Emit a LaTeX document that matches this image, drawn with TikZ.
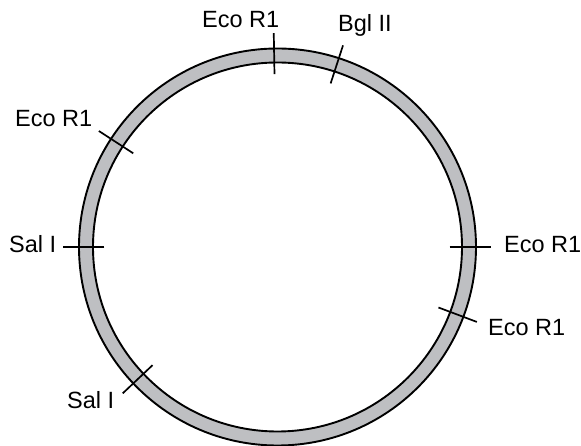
\documentclass[tikz,border=0pt]{standalone}
\usepackage{fontspec}
\setmainfont{Liberation Sans}
\usepackage{tikz}
\definecolor{ringgray}{RGB}{190,191,194}

\begin{document}
\begin{tikzpicture}[x=1pt, y=1pt, font=\fontsize{23.5}{28}\selectfont,
		site/.style={line width=1.7pt},
		enzyme/.style={anchor=base west, inner sep=0pt}]
		\useasboundingbox (-277.5,-199) rectangle (303.5,247);
		\coordinate (C) at (0,0); % ring centre
		\fill[ringgray, even odd rule] (C) circle (198.5pt) (C) circle (184.5pt);
		\draw[line width=1.9pt] (C) circle (198.5pt);
		\draw[line width=1.9pt] (C) circle (184.5pt);
		\draw[site] (91:173) -- (91:214);    % top
		\draw[site] (72:172) -- (72:212);    % upper right
		\draw[site] (147:172) -- (147:213);  % upper left
		\draw[site] (180:173) -- (180:214);  % left
		\draw[site] (223.4:172) -- (223.4:213); % lower left
		\draw[site] (0:172) -- (0:213);      % right
		\draw[site] (339.4:172) -- (339.4:213); % lower right
		\node[enzyme] (ecoT) at (-75.5,219) {Eco R1};
		\node[enzyme] (bgl) at (60.5,215) {Bgl II};
		\node[enzyme] (ecoUL) at (-262.5,120) {Eco R1};
		\node[enzyme] (salL) at (-268.5,-6) {Sal I};
		\node[enzyme] (ecoR) at (226.5,-6) {Eco R1};
		\node[enzyme] (ecoLR) at (210.5,-89) {Eco R1};
		\node[enzyme] (salB) at (-210.5,-162) {Sal I};
	\end{tikzpicture}
\end{document}
